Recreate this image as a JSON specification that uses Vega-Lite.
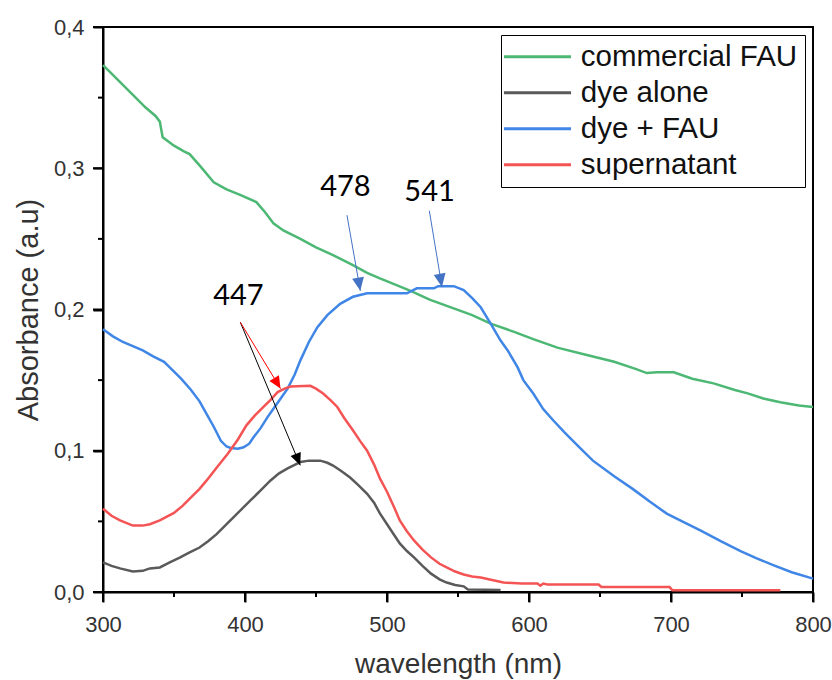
{
  "$schema": "https://vega.github.io/schema/vega-lite/v6.json",
  "autosize": "none",
  "width": 710,
  "height": 565,
  "padding": {"left": 103, "top": 27, "right": 19, "bottom": 88},
  "background": "white",
  "config": {
    "view": {"stroke": "black", "strokeWidth": 2},
    "font": "Liberation Sans"
  },
  "datasets": {
    "spectra": [
      {"series": "commercial FAU", "wl": 300, "abs": 0.373},
      {"series": "commercial FAU", "wl": 305, "abs": 0.368},
      {"series": "commercial FAU", "wl": 311, "abs": 0.362},
      {"series": "commercial FAU", "wl": 320, "abs": 0.353},
      {"series": "commercial FAU", "wl": 330, "abs": 0.343},
      {"series": "commercial FAU", "wl": 337, "abs": 0.337},
      {"series": "commercial FAU", "wl": 340, "abs": 0.333},
      {"series": "commercial FAU", "wl": 342, "abs": 0.322},
      {"series": "commercial FAU", "wl": 350, "abs": 0.316},
      {"series": "commercial FAU", "wl": 357, "abs": 0.312},
      {"series": "commercial FAU", "wl": 361, "abs": 0.310},
      {"series": "commercial FAU", "wl": 368, "abs": 0.302},
      {"series": "commercial FAU", "wl": 378, "abs": 0.290},
      {"series": "commercial FAU", "wl": 387, "abs": 0.285},
      {"series": "commercial FAU", "wl": 397, "abs": 0.281},
      {"series": "commercial FAU", "wl": 408, "abs": 0.276},
      {"series": "commercial FAU", "wl": 414, "abs": 0.269},
      {"series": "commercial FAU", "wl": 420, "abs": 0.261},
      {"series": "commercial FAU", "wl": 427, "abs": 0.256},
      {"series": "commercial FAU", "wl": 439, "abs": 0.250},
      {"series": "commercial FAU", "wl": 450, "abs": 0.244},
      {"series": "commercial FAU", "wl": 462, "abs": 0.2385},
      {"series": "commercial FAU", "wl": 475, "abs": 0.232},
      {"series": "commercial FAU", "wl": 486, "abs": 0.226},
      {"series": "commercial FAU", "wl": 495, "abs": 0.222},
      {"series": "commercial FAU", "wl": 505, "abs": 0.218},
      {"series": "commercial FAU", "wl": 517, "abs": 0.213},
      {"series": "commercial FAU", "wl": 530, "abs": 0.207},
      {"series": "commercial FAU", "wl": 545, "abs": 0.2015},
      {"series": "commercial FAU", "wl": 560, "abs": 0.196},
      {"series": "commercial FAU", "wl": 573, "abs": 0.190},
      {"series": "commercial FAU", "wl": 590, "abs": 0.184},
      {"series": "commercial FAU", "wl": 603, "abs": 0.179},
      {"series": "commercial FAU", "wl": 620, "abs": 0.173},
      {"series": "commercial FAU", "wl": 640, "abs": 0.168},
      {"series": "commercial FAU", "wl": 660, "abs": 0.163},
      {"series": "commercial FAU", "wl": 675, "abs": 0.158},
      {"series": "commercial FAU", "wl": 683, "abs": 0.155},
      {"series": "commercial FAU", "wl": 690, "abs": 0.1556},
      {"series": "commercial FAU", "wl": 702, "abs": 0.1556},
      {"series": "commercial FAU", "wl": 715, "abs": 0.151},
      {"series": "commercial FAU", "wl": 730, "abs": 0.1477},
      {"series": "commercial FAU", "wl": 745, "abs": 0.143},
      {"series": "commercial FAU", "wl": 754, "abs": 0.1406},
      {"series": "commercial FAU", "wl": 765, "abs": 0.137},
      {"series": "commercial FAU", "wl": 777, "abs": 0.1343},
      {"series": "commercial FAU", "wl": 790, "abs": 0.132},
      {"series": "commercial FAU", "wl": 800, "abs": 0.131},

      {"series": "dye alone", "wl": 300, "abs": 0.021},
      {"series": "dye alone", "wl": 306, "abs": 0.0185},
      {"series": "dye alone", "wl": 312, "abs": 0.0167},
      {"series": "dye alone", "wl": 321, "abs": 0.0145},
      {"series": "dye alone", "wl": 328, "abs": 0.015},
      {"series": "dye alone", "wl": 333, "abs": 0.0167},
      {"series": "dye alone", "wl": 340, "abs": 0.0174},
      {"series": "dye alone", "wl": 347, "abs": 0.021},
      {"series": "dye alone", "wl": 354, "abs": 0.0244},
      {"series": "dye alone", "wl": 361, "abs": 0.028},
      {"series": "dye alone", "wl": 368, "abs": 0.0315},
      {"series": "dye alone", "wl": 374, "abs": 0.036},
      {"series": "dye alone", "wl": 380, "abs": 0.041},
      {"series": "dye alone", "wl": 386, "abs": 0.047},
      {"series": "dye alone", "wl": 392, "abs": 0.053},
      {"series": "dye alone", "wl": 398, "abs": 0.059},
      {"series": "dye alone", "wl": 404, "abs": 0.065},
      {"series": "dye alone", "wl": 411, "abs": 0.072},
      {"series": "dye alone", "wl": 418, "abs": 0.079},
      {"series": "dye alone", "wl": 424, "abs": 0.084},
      {"series": "dye alone", "wl": 430, "abs": 0.0875},
      {"series": "dye alone", "wl": 435, "abs": 0.090},
      {"series": "dye alone", "wl": 439, "abs": 0.092},
      {"series": "dye alone", "wl": 445, "abs": 0.093},
      {"series": "dye alone", "wl": 453, "abs": 0.093},
      {"series": "dye alone", "wl": 458, "abs": 0.0915},
      {"series": "dye alone", "wl": 462, "abs": 0.0895},
      {"series": "dye alone", "wl": 468, "abs": 0.0855},
      {"series": "dye alone", "wl": 474, "abs": 0.081},
      {"series": "dye alone", "wl": 480, "abs": 0.0755},
      {"series": "dye alone", "wl": 486, "abs": 0.0695},
      {"series": "dye alone", "wl": 491, "abs": 0.063},
      {"series": "dye alone", "wl": 495, "abs": 0.0556},
      {"series": "dye alone", "wl": 502, "abs": 0.045},
      {"series": "dye alone", "wl": 509, "abs": 0.0344},
      {"series": "dye alone", "wl": 514, "abs": 0.029},
      {"series": "dye alone", "wl": 519, "abs": 0.0245},
      {"series": "dye alone", "wl": 525, "abs": 0.0185},
      {"series": "dye alone", "wl": 531, "abs": 0.013},
      {"series": "dye alone", "wl": 537, "abs": 0.009},
      {"series": "dye alone", "wl": 542, "abs": 0.0067},
      {"series": "dye alone", "wl": 548, "abs": 0.005},
      {"series": "dye alone", "wl": 554, "abs": 0.004},
      {"series": "dye alone", "wl": 557, "abs": 0.0018},
      {"series": "dye alone", "wl": 580, "abs": 0.0015},

      {"series": "dye + FAU", "wl": 300, "abs": 0.186},
      {"series": "dye + FAU", "wl": 307, "abs": 0.181},
      {"series": "dye + FAU", "wl": 314, "abs": 0.177},
      {"series": "dye + FAU", "wl": 321, "abs": 0.174},
      {"series": "dye + FAU", "wl": 328, "abs": 0.171},
      {"series": "dye + FAU", "wl": 335, "abs": 0.167},
      {"series": "dye + FAU", "wl": 343, "abs": 0.163},
      {"series": "dye + FAU", "wl": 347, "abs": 0.159},
      {"series": "dye + FAU", "wl": 355, "abs": 0.151},
      {"series": "dye + FAU", "wl": 362, "abs": 0.143},
      {"series": "dye + FAU", "wl": 368, "abs": 0.135},
      {"series": "dye + FAU", "wl": 373, "abs": 0.126},
      {"series": "dye + FAU", "wl": 378, "abs": 0.117},
      {"series": "dye + FAU", "wl": 383, "abs": 0.107},
      {"series": "dye + FAU", "wl": 387, "abs": 0.103},
      {"series": "dye + FAU", "wl": 390, "abs": 0.102},
      {"series": "dye + FAU", "wl": 395, "abs": 0.1015},
      {"series": "dye + FAU", "wl": 399, "abs": 0.1025},
      {"series": "dye + FAU", "wl": 403, "abs": 0.105},
      {"series": "dye + FAU", "wl": 406, "abs": 0.1095},
      {"series": "dye + FAU", "wl": 411, "abs": 0.116},
      {"series": "dye + FAU", "wl": 416, "abs": 0.124},
      {"series": "dye + FAU", "wl": 423, "abs": 0.134},
      {"series": "dye + FAU", "wl": 430, "abs": 0.144},
      {"series": "dye + FAU", "wl": 435, "abs": 0.154},
      {"series": "dye + FAU", "wl": 439, "abs": 0.164},
      {"series": "dye + FAU", "wl": 445, "abs": 0.177},
      {"series": "dye + FAU", "wl": 451, "abs": 0.1875},
      {"series": "dye + FAU", "wl": 458, "abs": 0.196},
      {"series": "dye + FAU", "wl": 467, "abs": 0.204},
      {"series": "dye + FAU", "wl": 476, "abs": 0.209},
      {"series": "dye + FAU", "wl": 486, "abs": 0.2115},
      {"series": "dye + FAU", "wl": 500, "abs": 0.2115},
      {"series": "dye + FAU", "wl": 514, "abs": 0.2115},
      {"series": "dye + FAU", "wl": 521, "abs": 0.215},
      {"series": "dye + FAU", "wl": 533, "abs": 0.215},
      {"series": "dye + FAU", "wl": 536, "abs": 0.2165},
      {"series": "dye + FAU", "wl": 547, "abs": 0.2165},
      {"series": "dye + FAU", "wl": 554, "abs": 0.2137},
      {"series": "dye + FAU", "wl": 560, "abs": 0.208},
      {"series": "dye + FAU", "wl": 566, "abs": 0.2016},
      {"series": "dye + FAU", "wl": 573, "abs": 0.190},
      {"series": "dye + FAU", "wl": 580, "abs": 0.178},
      {"series": "dye + FAU", "wl": 585, "abs": 0.171},
      {"series": "dye + FAU", "wl": 592, "abs": 0.159},
      {"series": "dye + FAU", "wl": 596, "abs": 0.150},
      {"series": "dye + FAU", "wl": 603, "abs": 0.1405},
      {"series": "dye + FAU", "wl": 610, "abs": 0.1295},
      {"series": "dye + FAU", "wl": 617, "abs": 0.1216},
      {"series": "dye + FAU", "wl": 625, "abs": 0.113},
      {"series": "dye + FAU", "wl": 635, "abs": 0.103},
      {"series": "dye + FAU", "wl": 645, "abs": 0.093},
      {"series": "dye + FAU", "wl": 660, "abs": 0.082},
      {"series": "dye + FAU", "wl": 673, "abs": 0.073},
      {"series": "dye + FAU", "wl": 685, "abs": 0.064},
      {"series": "dye + FAU", "wl": 697, "abs": 0.0555},
      {"series": "dye + FAU", "wl": 710, "abs": 0.049},
      {"series": "dye + FAU", "wl": 721, "abs": 0.0435},
      {"series": "dye + FAU", "wl": 735, "abs": 0.036},
      {"series": "dye + FAU", "wl": 749, "abs": 0.029},
      {"series": "dye + FAU", "wl": 760, "abs": 0.024},
      {"series": "dye + FAU", "wl": 772, "abs": 0.019},
      {"series": "dye + FAU", "wl": 785, "abs": 0.014},
      {"series": "dye + FAU", "wl": 800, "abs": 0.0095},

      {"series": "supernatant", "wl": 300, "abs": 0.059},
      {"series": "supernatant", "wl": 306, "abs": 0.054},
      {"series": "supernatant", "wl": 312, "abs": 0.0507},
      {"series": "supernatant", "wl": 321, "abs": 0.047},
      {"series": "supernatant", "wl": 328, "abs": 0.047},
      {"series": "supernatant", "wl": 333, "abs": 0.048},
      {"series": "supernatant", "wl": 340, "abs": 0.0507},
      {"series": "supernatant", "wl": 350, "abs": 0.056},
      {"series": "supernatant", "wl": 356, "abs": 0.061},
      {"series": "supernatant", "wl": 362, "abs": 0.067},
      {"series": "supernatant", "wl": 368, "abs": 0.073},
      {"series": "supernatant", "wl": 373, "abs": 0.079},
      {"series": "supernatant", "wl": 380, "abs": 0.088},
      {"series": "supernatant", "wl": 388, "abs": 0.098},
      {"series": "supernatant", "wl": 395, "abs": 0.108},
      {"series": "supernatant", "wl": 401, "abs": 0.118},
      {"series": "supernatant", "wl": 407, "abs": 0.125},
      {"series": "supernatant", "wl": 413, "abs": 0.131},
      {"series": "supernatant", "wl": 418, "abs": 0.136},
      {"series": "supernatant", "wl": 423, "abs": 0.1415},
      {"series": "supernatant", "wl": 428, "abs": 0.144},
      {"series": "supernatant", "wl": 432, "abs": 0.1455},
      {"series": "supernatant", "wl": 446, "abs": 0.146},
      {"series": "supernatant", "wl": 450, "abs": 0.144},
      {"series": "supernatant", "wl": 455, "abs": 0.1405},
      {"series": "supernatant", "wl": 460, "abs": 0.136},
      {"series": "supernatant", "wl": 465, "abs": 0.131},
      {"series": "supernatant", "wl": 470, "abs": 0.123},
      {"series": "supernatant", "wl": 476, "abs": 0.1145},
      {"series": "supernatant", "wl": 481, "abs": 0.107},
      {"series": "supernatant", "wl": 486, "abs": 0.100},
      {"series": "supernatant", "wl": 491, "abs": 0.090},
      {"series": "supernatant", "wl": 495, "abs": 0.0804},
      {"series": "supernatant", "wl": 500, "abs": 0.071},
      {"series": "supernatant", "wl": 505, "abs": 0.060},
      {"series": "supernatant", "wl": 509, "abs": 0.0507},
      {"series": "supernatant", "wl": 514, "abs": 0.043},
      {"series": "supernatant", "wl": 519, "abs": 0.0365},
      {"series": "supernatant", "wl": 525, "abs": 0.030},
      {"series": "supernatant", "wl": 531, "abs": 0.0245},
      {"series": "supernatant", "wl": 537, "abs": 0.020},
      {"series": "supernatant", "wl": 542, "abs": 0.0174},
      {"series": "supernatant", "wl": 548, "abs": 0.0145},
      {"series": "supernatant", "wl": 554, "abs": 0.0124},
      {"series": "supernatant", "wl": 560, "abs": 0.011},
      {"series": "supernatant", "wl": 566, "abs": 0.0103},
      {"series": "supernatant", "wl": 574, "abs": 0.0085},
      {"series": "supernatant", "wl": 582, "abs": 0.0067},
      {"series": "supernatant", "wl": 595, "abs": 0.006},
      {"series": "supernatant", "wl": 606, "abs": 0.006},
      {"series": "supernatant", "wl": 608, "abs": 0.0045},
      {"series": "supernatant", "wl": 610, "abs": 0.006},
      {"series": "supernatant", "wl": 613, "abs": 0.0053},
      {"series": "supernatant", "wl": 649, "abs": 0.0053},
      {"series": "supernatant", "wl": 651, "abs": 0.0035},
      {"series": "supernatant", "wl": 699, "abs": 0.0035},
      {"series": "supernatant", "wl": 701, "abs": 0.0012},
      {"series": "supernatant", "wl": 777, "abs": 0.0012}
    ],
    "labels": [
      {"text": "447", "wl": 395.4, "abs": 0.2095},
      {"text": "478", "wl": 470.7, "abs": 0.2865},
      {"text": "541", "wl": 530, "abs": 0.2834}
    ],
    "arrows": [
      {"arrow": "478", "wl": 471.8, "abs": 0.2668, "wl2": 481.2, "abs2": 0.2132},
      {"arrow": "541", "wl": 529.8, "abs": 0.2699, "wl2": 538.7, "abs2": 0.216},
      {"arrow": "447 dye", "wl": 396.7, "abs": 0.191, "wl2": 438.9, "abs2": 0.0897},
      {"arrow": "447 sup", "wl": 396.7, "abs": 0.191, "wl2": 425, "abs2": 0.144}
    ],
    "xticks": [
      {"wl": 300, "kind": "major"}, {"wl": 350, "kind": "minor"},
      {"wl": 400, "kind": "major"}, {"wl": 450, "kind": "minor"},
      {"wl": 500, "kind": "major"}, {"wl": 550, "kind": "minor"},
      {"wl": 600, "kind": "major"}, {"wl": 650, "kind": "minor"},
      {"wl": 700, "kind": "major"}, {"wl": 750, "kind": "minor"},
      {"wl": 800, "kind": "major"}
    ],
    "yticks": [
      {"abs": 0, "kind": "major"}, {"abs": 0.05, "kind": "minor"},
      {"abs": 0.1, "kind": "major"}, {"abs": 0.15, "kind": "minor"},
      {"abs": 0.2, "kind": "major"}, {"abs": 0.25, "kind": "minor"},
      {"abs": 0.3, "kind": "major"}, {"abs": 0.35, "kind": "minor"},
      {"abs": 0.4, "kind": "major"}
    ]
  },
  "layer": [
    {
      "data": {"name": "spectra"},
      "mark": {"type": "line", "strokeWidth": 2.5, "interpolate": "linear"},
      "encoding": {
        "x": {
          "field": "wl", "type": "quantitative",
          "scale": {"domain": [300, 800], "nice": false, "zero": false},
          "axis": {
            "orient": "bottom",
            "title": "wavelength (nm)",
            "values": [300, 400, 500, 600, 700, 800],
            "grid": false,
            "ticks": true,
            "labelFlush": false,
            "labelOverlap": false,
            "domainColor": "black", "domainWidth": 2,
            "tickColor": "black", "tickWidth": 2, "tickSize": 10,
            "labelFont": "Liberation Sans",
            "labelFontSize": 22, "labelColor": "#333333", "labelPadding": 12,
            "titleFont": "Liberation Sans",
            "titleFontSize": 28, "titleFontWeight": "normal", "titleColor": "#333333", "titlePadding": 15
          }
        },
        "y": {
          "field": "abs", "type": "quantitative",
          "scale": {"domain": [0, 0.4], "nice": false},
          "axis": {
            "orient": "left",
            "title": "Absorbance (a.u)",
            "values": [0, 0.1, 0.2, 0.3, 0.4],
            "labelExpr": "replace(format(datum.value, '.1f'), '.', ',')",
            "grid": false,
            "ticks": true,
            "labelFlush": false,
            "labelOverlap": false,
            "domainColor": "black", "domainWidth": 2,
            "tickColor": "black", "tickWidth": 2, "tickSize": 10,
            "labelFont": "Liberation Sans",
            "labelFontSize": 22, "labelColor": "#333333", "labelPadding": 9,
            "titleFont": "Liberation Sans",
            "titleFontSize": 29, "titleFontWeight": "normal", "titleColor": "#333333", "titlePadding": 10
          }
        },
        "color": {
          "field": "series", "type": "nominal",
          "scale": {
            "domain": ["commercial FAU", "dye alone", "dye + FAU", "supernatant"],
            "range": ["#4cb874", "#5a5a5a", "#3f86e6", "#f55454"]
          },
          "legend": {
            "title": null,
            "orient": "none",
            "legendX": 398,
            "legendY": 8,
            "symbolType": "M-3.05,0H3.05",
            "symbolSize": 484,
            "symbolStrokeWidth": 3,
            "symbolOffset": 14.75,
            "labelFontSize": 29.5,
            "labelColor": "#111111",
            "labelFont": "Liberation Sans",
            "labelLimit": 400,
            "labelOffset": 28.5,
            "rowPadding": 5,
            "strokeColor": "black",
            "fillColor": "white",
            "padding": 7
          }
        }
      }
    },
    {
      "data": {"name": "xticks"},
      "transform": [{"filter": "datum.kind == 'major'"}],
      "mark": {"type": "tick", "orient": "vertical", "color": "black", "opacity": 1, "size": 10, "thickness": 2, "yOffset": 5},
      "encoding": {
        "x": {"field": "wl", "type": "quantitative"},
        "y": {"datum": 0, "type": "quantitative"}
      }
    },
    {
      "data": {"name": "xticks"},
      "transform": [{"filter": "datum.kind == 'minor'"}],
      "mark": {"type": "tick", "orient": "vertical", "color": "black", "opacity": 1, "size": 5, "thickness": 2, "yOffset": 2.5},
      "encoding": {
        "x": {"field": "wl", "type": "quantitative"},
        "y": {"datum": 0, "type": "quantitative"}
      }
    },
    {
      "data": {"name": "yticks"},
      "transform": [{"filter": "datum.kind == 'major'"}],
      "mark": {"type": "tick", "orient": "horizontal", "color": "black", "opacity": 1, "size": 10, "thickness": 2, "xOffset": -5},
      "encoding": {
        "y": {"field": "abs", "type": "quantitative"},
        "x": {"datum": 300, "type": "quantitative"}
      }
    },
    {
      "data": {"name": "yticks"},
      "transform": [{"filter": "datum.kind == 'minor'"}],
      "mark": {"type": "tick", "orient": "horizontal", "color": "black", "opacity": 1, "size": 5, "thickness": 2, "xOffset": -2.5},
      "encoding": {
        "y": {"field": "abs", "type": "quantitative"},
        "x": {"datum": 300, "type": "quantitative"}
      }
    },
    {
      "data": {"name": "labels"},
      "mark": {"type": "text", "font": "Lato", "fontSize": 29, "color": "black", "baseline": "middle", "align": "center"},
      "encoding": {
        "x": {"field": "wl", "type": "quantitative"},
        "y": {"field": "abs", "type": "quantitative"},
        "text": {"field": "text"}
      }
    },
    {
      "data": {"name": "arrows"},
      "transform": [{"filter": "datum.arrow == '478' || datum.arrow == '541'"}],
      "mark": {"type": "rule", "color": "#4472c4", "strokeWidth": 1},
      "encoding": {
        "x": {"field": "wl", "type": "quantitative"},
        "y": {"field": "abs", "type": "quantitative"},
        "x2": {"field": "wl2"},
        "y2": {"field": "abs2"}
      }
    },
    {
      "data": {"name": "arrows"},
      "transform": [{"filter": "datum.arrow == '447 dye'"}],
      "mark": {"type": "rule", "color": "black", "strokeWidth": 1},
      "encoding": {
        "x": {"field": "wl", "type": "quantitative"},
        "y": {"field": "abs", "type": "quantitative"},
        "x2": {"field": "wl2"},
        "y2": {"field": "abs2"}
      }
    },
    {
      "data": {"name": "arrows"},
      "transform": [{"filter": "datum.arrow == '447 sup'"}],
      "mark": {"type": "rule", "color": "red", "strokeWidth": 1},
      "encoding": {
        "x": {"field": "wl", "type": "quantitative"},
        "y": {"field": "abs", "type": "quantitative"},
        "x2": {"field": "wl2"},
        "y2": {"field": "abs2"}
      }
    },
    {
      "data": {"name": "arrows"},
      "transform": [{"filter": "datum.arrow == '478' || datum.arrow == '541'"}],
      "mark": {"type": "point", "shape": "M0,0L-0.45,-1L0.45,-1Z", "filled": true, "color": "#4472c4", "size": 700, "angle": -10, "opacity": 1},
      "encoding": {
        "x": {"field": "wl2", "type": "quantitative"},
        "y": {"field": "abs2", "type": "quantitative"}
      }
    },
    {
      "data": {"name": "arrows"},
      "transform": [{"filter": "datum.arrow == '447 dye'"}],
      "mark": {"type": "point", "shape": "M0,0L-0.45,-1L0.45,-1Z", "filled": true, "color": "black", "size": 600, "angle": -22, "opacity": 1},
      "encoding": {
        "x": {"field": "wl2", "type": "quantitative"},
        "y": {"field": "abs2", "type": "quantitative"}
      }
    },
    {
      "data": {"name": "arrows"},
      "transform": [{"filter": "datum.arrow == '447 sup'"}],
      "mark": {"type": "point", "shape": "M0,0L-0.45,-1L0.45,-1Z", "filled": true, "color": "red", "size": 600, "angle": -31, "opacity": 1},
      "encoding": {
        "x": {"field": "wl2", "type": "quantitative"},
        "y": {"field": "abs2", "type": "quantitative"}
      }
    }
  ]
}
